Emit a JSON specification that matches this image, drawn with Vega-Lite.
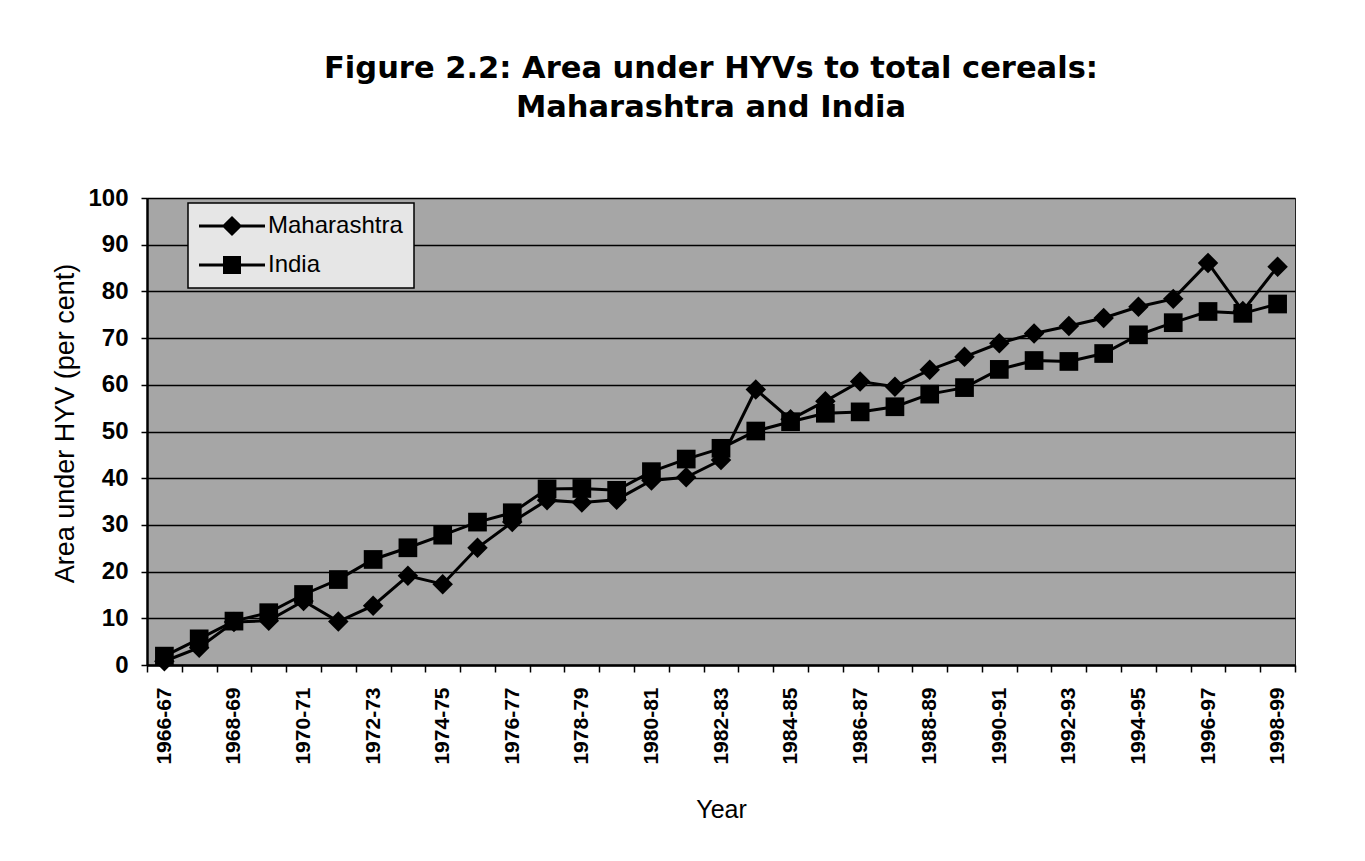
{
  "$schema": "https://vega.github.io/schema/vega-lite/v6.json",
  "width": 1148,
  "height": 467,
  "autosize": {"type": "none"},
  "padding": {"left": 147, "top": 198, "right": 70, "bottom": 196},
  "background": "white",
  "title": {
    "text": ["Figure 2.2: Area under HYVs to total cereals:", "Maharashtra and India"],
    "font": "DejaVu Sans",
    "fontSize": 30.5,
    "fontWeight": "bold",
    "color": "black",
    "anchor": "middle",
    "frame": "group",
    "offset": 63,
    "lineHeight": 39,
    "dx": -10
  },
  "datasets": {
    "hyv": [
      {"year": "1966-67", "series": "Maharashtra", "value": 0.8},
      {"year": "1967-68", "series": "Maharashtra", "value": 3.7},
      {"year": "1968-69", "series": "Maharashtra", "value": 9.2},
      {"year": "1969-70", "series": "Maharashtra", "value": 9.5},
      {"year": "1970-71", "series": "Maharashtra", "value": 13.7},
      {"year": "1971-72", "series": "Maharashtra", "value": 9.3},
      {"year": "1972-73", "series": "Maharashtra", "value": 12.7},
      {"year": "1973-74", "series": "Maharashtra", "value": 19.1},
      {"year": "1974-75", "series": "Maharashtra", "value": 17.3},
      {"year": "1975-76", "series": "Maharashtra", "value": 25.1},
      {"year": "1976-77", "series": "Maharashtra", "value": 30.6},
      {"year": "1977-78", "series": "Maharashtra", "value": 35.3},
      {"year": "1978-79", "series": "Maharashtra", "value": 34.8},
      {"year": "1979-80", "series": "Maharashtra", "value": 35.4},
      {"year": "1980-81", "series": "Maharashtra", "value": 39.5},
      {"year": "1981-82", "series": "Maharashtra", "value": 40.2},
      {"year": "1982-83", "series": "Maharashtra", "value": 43.9},
      {"year": "1983-84", "series": "Maharashtra", "value": 59.0},
      {"year": "1984-85", "series": "Maharashtra", "value": 52.6},
      {"year": "1985-86", "series": "Maharashtra", "value": 56.5},
      {"year": "1986-87", "series": "Maharashtra", "value": 60.7},
      {"year": "1987-88", "series": "Maharashtra", "value": 59.6},
      {"year": "1988-89", "series": "Maharashtra", "value": 63.2},
      {"year": "1989-90", "series": "Maharashtra", "value": 66.0},
      {"year": "1990-91", "series": "Maharashtra", "value": 68.9},
      {"year": "1991-92", "series": "Maharashtra", "value": 71.0},
      {"year": "1992-93", "series": "Maharashtra", "value": 72.6},
      {"year": "1993-94", "series": "Maharashtra", "value": 74.3},
      {"year": "1994-95", "series": "Maharashtra", "value": 76.7},
      {"year": "1995-96", "series": "Maharashtra", "value": 78.4},
      {"year": "1996-97", "series": "Maharashtra", "value": 86.1},
      {"year": "1997-98", "series": "Maharashtra", "value": 75.8},
      {"year": "1998-99", "series": "Maharashtra", "value": 85.3},
      {"year": "1966-67", "series": "India", "value": 1.9},
      {"year": "1967-68", "series": "India", "value": 5.6},
      {"year": "1968-69", "series": "India", "value": 9.4},
      {"year": "1969-70", "series": "India", "value": 11.2},
      {"year": "1970-71", "series": "India", "value": 15.1},
      {"year": "1971-72", "series": "India", "value": 18.3},
      {"year": "1972-73", "series": "India", "value": 22.6},
      {"year": "1973-74", "series": "India", "value": 25.1},
      {"year": "1974-75", "series": "India", "value": 27.8},
      {"year": "1975-76", "series": "India", "value": 30.6},
      {"year": "1976-77", "series": "India", "value": 32.6},
      {"year": "1977-78", "series": "India", "value": 37.7},
      {"year": "1978-79", "series": "India", "value": 37.8},
      {"year": "1979-80", "series": "India", "value": 37.4},
      {"year": "1980-81", "series": "India", "value": 41.4},
      {"year": "1981-82", "series": "India", "value": 44.1},
      {"year": "1982-83", "series": "India", "value": 46.4},
      {"year": "1983-84", "series": "India", "value": 50.1},
      {"year": "1984-85", "series": "India", "value": 52.1},
      {"year": "1985-86", "series": "India", "value": 53.9},
      {"year": "1986-87", "series": "India", "value": 54.2},
      {"year": "1987-88", "series": "India", "value": 55.3},
      {"year": "1988-89", "series": "India", "value": 58.0},
      {"year": "1989-90", "series": "India", "value": 59.4},
      {"year": "1990-91", "series": "India", "value": 63.3},
      {"year": "1991-92", "series": "India", "value": 65.2},
      {"year": "1992-93", "series": "India", "value": 65.0},
      {"year": "1993-94", "series": "India", "value": 66.7},
      {"year": "1994-95", "series": "India", "value": 70.7},
      {"year": "1995-96", "series": "India", "value": 73.3},
      {"year": "1996-97", "series": "India", "value": 75.7},
      {"year": "1997-98", "series": "India", "value": 75.3},
      {"year": "1998-99", "series": "India", "value": 77.3}
    ]
  },
  "data": {"name": "hyv"},
  "encoding": {
    "x": {
      "field": "year",
      "type": "nominal",
      "bandPosition": 0.5,
      "scale": {"type": "band", "paddingInner": 0, "paddingOuter": 0},
      "axis": {
        "title": "Year",
        "titleFont": "Liberation Sans",
        "titleFontSize": 25,
        "titleFontWeight": "normal",
        "titleColor": "black",
        "titlePadding": 33,
        "labelFont": "Liberation Sans",
        "labelFontSize": 21,
        "labelFontWeight": "bold",
        "labelColor": "black",
        "labelAngle": -90,
        "labelAlign": "right",
        "labelBaseline": "middle",
        "labelPadding": 15,
        "labelExpr": "parseInt(substring(datum.value,0,4)) % 2 == 0 ? datum.value : ''",
        "tickBand": "extent",
        "tickSize": 7,
        "tickColor": "black",
        "tickWidth": 1.5,
        "domainColor": "black",
        "domainWidth": 2.5,
        "grid": false
      }
    },
    "y": {
      "field": "value",
      "type": "quantitative",
      "scale": {"domain": [0, 100], "nice": false},
      "axis": {
        "title": "Area under HYV (per cent)",
        "titleFont": "Liberation Sans",
        "titleFontSize": 27,
        "titleFontWeight": "normal",
        "titleColor": "black",
        "titlePadding": 8,
        "titleY": 225,
        "values": [0, 10, 20, 30, 40, 50, 60, 70, 80, 90, 100],
        "labelFont": "Liberation Sans",
        "labelFontSize": 24,
        "labelFontWeight": "bold",
        "labelColor": "black",
        "labelPadding": 13,
        "tickSize": 6,
        "tickColor": "black",
        "tickWidth": 1.5,
        "domainColor": "black",
        "domainWidth": 2.5,
        "grid": true,
        "gridColor": "black",
        "gridWidth": 1.5
      }
    }
  },
  "layer": [
    {
      "mark": {"type": "line", "color": "black", "strokeWidth": 3},
      "encoding": {"detail": {"field": "series"}}
    },
    {
      "mark": {"type": "point", "filled": true, "color": "black", "opacity": 1},
      "encoding": {
        "shape": {
          "field": "series",
          "type": "nominal",
          "scale": {"domain": ["Maharashtra", "India"], "range": ["diamond", "square"]},
          "legend": null
        },
        "size": {
          "field": "series",
          "type": "nominal",
          "scale": {"domain": ["Maharashtra", "India"], "range": [420, 350]},
          "legend": null
        }
      }
    },
    {
      "mark": {"type": "point", "filled": true, "color": "black", "opacity": 1},
      "encoding": {
        "size": {"value": 0},
        "shape": {
          "field": "series",
          "type": "nominal",
          "scale": {
            "domain": ["Maharashtra", "India"],
            "range": [
              "M-3.3,-0.14H-0.86L0,-1L0.86,-0.14H3.3V0.14H0.86L0,1L-0.86,0.14H-3.3Z",
              "M-3.3,-0.14H-0.9V-0.9H0.9V-0.14H3.3V0.14H0.9V0.9H-0.9V0.14H-3.3Z"
            ]
          },
          "legend": {
            "title": null,
            "orient": "none",
            "legendX": 41,
            "legendY": 5,
            "direction": "vertical",
            "fillColor": "#e6e6e6",
            "strokeColor": "black",
            "padding": 11,
            "symbolSize": 400,
            "symbolOffset": 21,
            "symbolFillColor": "black",
            "symbolStrokeColor": "black",
            "symbolStrokeWidth": 0,
            "labelFont": "Liberation Sans",
            "labelFontSize": 24,
            "labelColor": "black",
            "labelOffset": 24,
            "rowPadding": 15
          }
        }
      }
    }
  ],
  "resolve": {"scale": {"shape": "independent", "size": "independent"}},
  "config": {
    "view": {
      "stroke": "#222222",
      "strokeWidth": 1,
      "fill": "#a6a6a6"
    },
    "legend": {"strokeWidth": 1.5}
  }
}
